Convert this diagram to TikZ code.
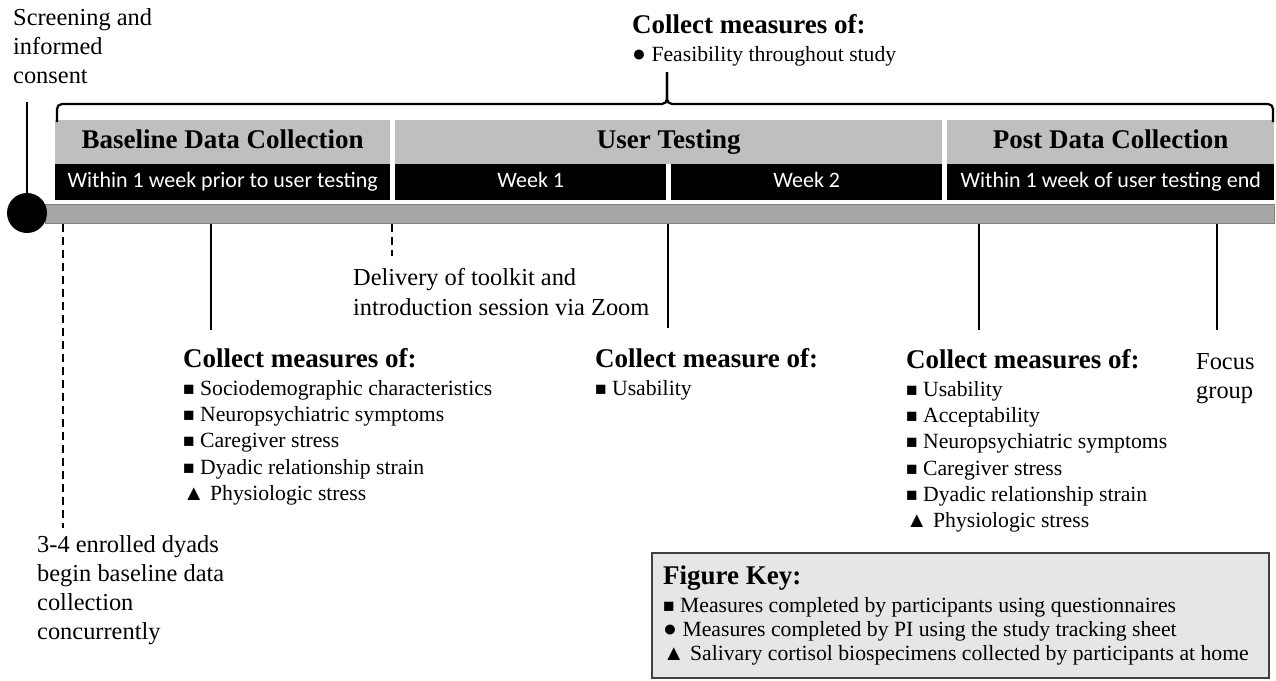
\documentclass[tikz,border=0pt]{standalone}
\usepackage{fontspec}
\setmainfont{Liberation Serif}
\newfontfamily\weekfont{Carlito}
\usepackage{tikz}
\usetikzlibrary{positioning}
\definecolor{rowgray}{RGB}{191,191,191}
\definecolor{bargray}{RGB}{166,166,166}
\definecolor{bardark}{RGB}{127,127,127}
\definecolor{keygray}{RGB}{231,230,230}
\newcommand{\sq}{{\fontsize{19}{19}\selectfont ■}}
\newcommand{\dt}{{\fontsize{23}{23}\selectfont ●}}

\begin{document}
\begin{tikzpicture}[
    x=1pt, y=-1pt,
    phase/.style={rectangle, fill=rowgray, inner sep=0pt, anchor=north west, minimum height=44pt, text height=18pt, text depth=5pt, font=\fontsize{27}{32}\selectfont\bfseries},
    week/.style={rectangle, fill=black, text=white, inner sep=0pt, anchor=north west, minimum height=36pt, text height=15pt, text depth=4pt, font=\weekfont\fontsize{22}{26}\selectfont},
    head/.style={inner sep=0pt, anchor=base west, text depth=0pt, font=\fontsize{27}{32}\selectfont\bfseries},
    items/.style={inner sep=0pt, align=left, font=\fontsize{21.7}{26.2}\selectfont},
    note/.style={inner sep=0pt, align=left, anchor=north west, font=\fontsize{24.4}{29}\selectfont},
    tick/.style={line width=2.6pt},
    dtick/.style={line width=2.6pt, dash pattern=on 8pt off 5pt},
    brace/.style={line width=2.2pt, rounded corners=5pt}
]
    \useasboundingbox (0,0) rectangle (1276,680);

    % Timeline bar and start point
    \node[rectangle, fill=bargray, draw=bardark, line width=1pt, anchor=north west, minimum width=1229pt, minimum height=19pt, inner sep=0pt] (timeline) at (45,204) {};
    \node[circle, fill=black, minimum size=40pt, inner sep=0pt] (start) at (27,213) {};
    \node[note] (screen) at (13,8) {Screening and\\informed\\consent};
    \coordinate (scr) at (27,102);
    \draw[tick] (start) -- (scr);

    % Phases
    \node[phase, minimum width=335pt] (basehdr) at (55,120) {Baseline Data Collection};
    \node[week, minimum width=335pt] (basewk) at (55,164) {Within 1 week prior to user testing};
    \node[phase, minimum width=547pt] (userhdr) at (395,120) {User Testing};
    \node[week, minimum width=271pt] (wk1) at (395,164) {Week 1};
    \node[week, minimum width=271pt] (wk2) at (671,164) {Week 2};
    \node[phase, minimum width=327pt] (posthdr) at (947,120) {Post Data Collection};
    \node[week, minimum width=327pt] (postwk) at (947,164) {Within 1 week of user testing end};

    % Bracket over the whole study
    \coordinate (tip) at (667,72);
    \draw[brace] (57,122) |- (667,104) -- (tip);
    \draw[brace] (tip) -- (667,104) -| (1273,122);
    \node[head] (feashd) at (632,33) {Collect measures of:};
    \node[items, below=13pt of feashd.south west, anchor=north west] (feas) {\dt\ Feasibility throughout study};

    % Enrolment
    \coordinate (t0) at (63,528);
    \draw[dtick] (timeline.south -| t0) -- (t0);
    \node[note] (enrol) at (37,535) {3-4 enrolled dyads\\begin baseline data\\collection\\concurrently};

    % Baseline measures
    \coordinate (t1) at (211,330);
    \draw[tick] (timeline.south -| t1) -- (t1);
    \node[head] (basehd) at (183,367) {Collect measures of:};
    \node[items, below=13pt of basehd.south west, anchor=north west] (baseitems) {\sq\ Sociodemographic characteristics\\\sq\ Neuropsychiatric symptoms\\\sq\ Caregiver stress\\\sq\ Dyadic relationship strain\\▲ Physiologic stress};

    % Toolkit delivery
    \coordinate (t2) at (392,256);
    \draw[dtick] (timeline.south -| t2) -- (t2);
    \node[note, font=\fontsize{24.4}{30}\selectfont] (deliv) at (353,268) {Delivery of toolkit and\\introduction session via Zoom};

    % Mid testing
    \coordinate (t3) at (668,328);
    \draw[tick] (timeline.south -| t3) -- (t3);
    \node[head] (midhd) at (595,367) {Collect measure of:};
    \node[items, below=13pt of midhd.south west, anchor=north west] (miditems) {\sq\ Usability};

    % Post measures
    \coordinate (t4) at (979,330);
    \draw[tick] (timeline.south -| t4) -- (t4);
    \node[head] (posthd) at (906,368) {Collect measures of:};
    \node[items, below=13pt of posthd.south west, anchor=north west] (postitems) {\sq\ Usability\\\sq\ Acceptability\\\sq\ Neuropsychiatric symptoms\\\sq\ Caregiver stress\\\sq\ Dyadic relationship strain\\▲ Physiologic stress};

    % Focus group
    \coordinate (t5) at (1217,330);
    \draw[tick] (timeline.south -| t5) -- (t5);
    \node[note] (focus) at (1196,353) {Focus\\group};

    % Figure key
    \node[rectangle, fill=keygray, draw=black!75, line width=1.5pt, anchor=north west, minimum width=617pt, minimum height=125pt, inner sep=0pt] (keybox) at (651,552) {};
    \node[head] (keyhd) at (663,584) {Figure Key:};
    \node[items, font=\fontsize{21.7}{24}\selectfont, below=13pt of keyhd.south west, anchor=north west] (keyitems) {\sq\ Measures completed by participants using questionnaires\\\dt\ Measures completed by PI using the study tracking sheet\\▲ Salivary cortisol biospecimens collected by participants at home};
\end{tikzpicture}
\end{document}
